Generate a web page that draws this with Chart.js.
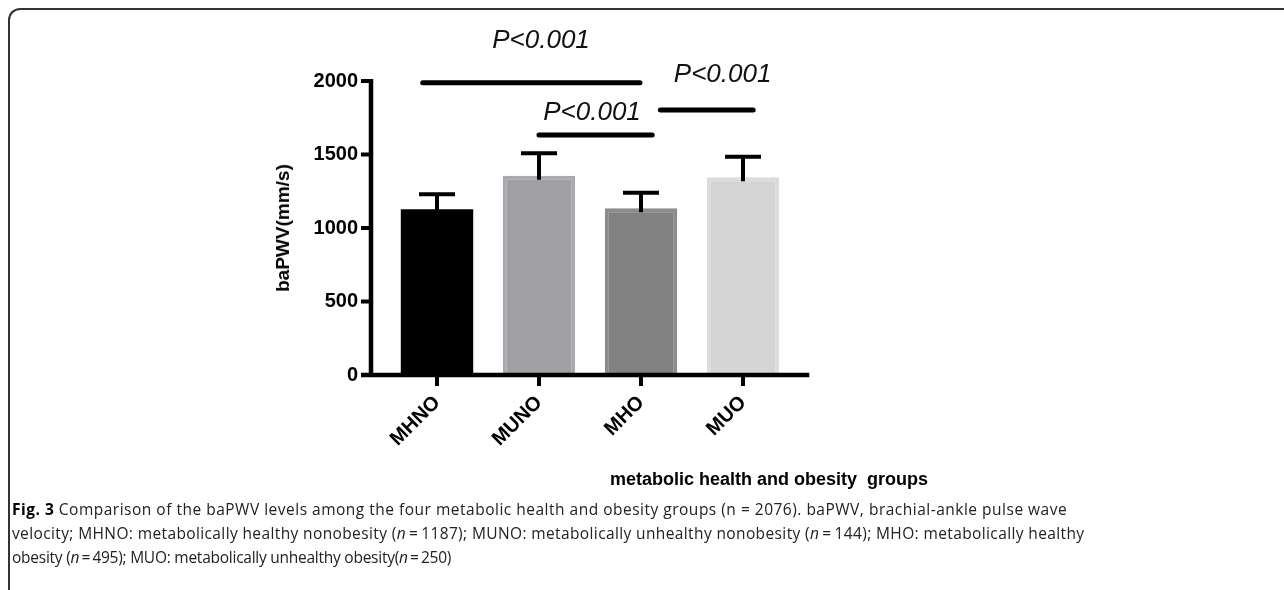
<!DOCTYPE html>
<html>
<head>
<meta charset="utf-8">
<script src="https://cdn.jsdelivr.net/npm/chart.js@4.4.1/dist/chart.umd.min.js"></script>
<style>
  body { margin: 0; background: #fff; width: 1284px; height: 590px; overflow: hidden; position: relative; }
  #frame { position: absolute; left: 8px; top: 8px; width: 1300px; height: 620px;
           border-top: 2px solid #333; border-left: 2px solid #333; border-top-left-radius: 12px; }
  #chart { position: absolute; left: 0; top: 0; }
  .axisTitle { position: absolute; font-family: "Liberation Sans", Arial, sans-serif; font-weight: bold; color: #000; white-space: pre; }
  #yTitle { font-size: 19px; left: 283px; top: 228px; transform: translate(-50%, -50%) rotate(-90deg); }
  #xTitle { font-size: 18px; left: 610px; top: 469px; }
  #caption { position: absolute; left: 12px; top: 497px; font-family: "Open Sans", sans-serif; font-size: 15.5px;
             line-height: 24px; color: #222; white-space: nowrap; }
  #caption span { display: block; }
  #caption b { color: #000; }
</style>
</head>
<body>
<div id="frame"></div>
<canvas id="chart" width="1284" height="590"></canvas>
<div class="axisTitle" id="yTitle">baPWV(mm/s)</div>
<div class="axisTitle" id="xTitle">metabolic health and obesity  groups</div>
<div id="caption">
  <span style="letter-spacing: 0.5px"><b>Fig. 3</b> Comparison of the baPWV levels among the four metabolic health and obesity groups (n = 2076). baPWV, brachial-ankle pulse wave</span>
  <span style="letter-spacing: 0.38px">velocity; MHNO: metabolically healthy nonobesity (<i>n</i>&thinsp;=&thinsp;1187); MUNO: metabolically unhealthy nonobesity (<i>n</i>&thinsp;=&thinsp;144); MHO: metabolically healthy</span>
  <span style="letter-spacing: -0.25px">obesity (<i>n</i>&thinsp;=&thinsp;495); MUO: metabolically unhealthy obesity(<i>n</i>&thinsp;=&thinsp;250)</span>
</div>
<script>
// Chart data
const groups = ['MHNO', 'MUNO', 'MHO', 'MUO'];
const meanValues = [1127, 1356, 1134, 1345];
const errorTops = [1230, 1508, 1240, 1485];
const yTicks = [0, 500, 1000, 1500, 2000];

// Significance brackets (category index from/to, y value)
const bracketFrom = [-0.14, 1.0, 2.19];
const bracketTo = [1.99, 2.11, 3.1];
const bracketY = [1988, 1633, 1803];
const pLabels = ['P<0.001', 'P<0.001', 'P<0.001'];
const pLabelX = [1.02, 1.52, 2.8];
const pLabelY = [2224, 1735, 1993];

const fillColors = ['#000000', '#a0a0a4', '#818181', '#d4d4d4'];
const edgeColors = ['#000000', '#aaaaae', '#8c8c8c', '#dcdcdc'];
const edgeWidths = [0, 4, 4, 4];

// Draws axis lines, tick marks, error bars and brackets
const extrasPlugin = {
    id: 'extras',
    afterDatasetsDraw(chart) {
        const ctx = chart.ctx;
        const x = chart.scales.x;
        const y = chart.scales.y;
        const axisX = chart.chartArea.left - 15;
        const y0 = y.getPixelForValue(0);
        ctx.save();
        ctx.strokeStyle = '#000';
        ctx.lineCap = 'butt';

        // error bars
        ctx.lineWidth = 4;
        groups.forEach((g, i) => {
            const cx = x.getPixelForValue(i);
            const top = y.getPixelForValue(errorTops[i]);
            const barTop = y.getPixelForValue(meanValues[i]);
            ctx.beginPath();
            ctx.moveTo(cx, barTop + 4);
            ctx.lineTo(cx, top);
            ctx.moveTo(cx - 18, top);
            ctx.lineTo(cx + 18, top);
            ctx.stroke();
        });

        // axes
        ctx.lineWidth = 4.5;
        ctx.beginPath();
        ctx.moveTo(axisX, y0 + 2);
        ctx.lineTo(axisX, y.getPixelForValue(2000) - 2);
        ctx.moveTo(axisX - 10, y0);
        ctx.lineTo(x.getPixelForValue(3.65), y0);
        ctx.stroke();
        ctx.lineWidth = 4;
        ctx.beginPath();
        yTicks.forEach(v => {
            const py = y.getPixelForValue(v);
            ctx.moveTo(axisX - 10, py);
            ctx.lineTo(axisX, py);
        });
        groups.forEach((g, i) => {
            const cx = x.getPixelForValue(i);
            ctx.moveTo(cx, y0);
            ctx.lineTo(cx, y0 + 11);
        });
        ctx.stroke();

        // significance lines
        ctx.lineWidth = 5;
        ctx.lineCap = 'round';
        ctx.beginPath();
        bracketY.forEach((v, i) => {
            const py = y.getPixelForValue(v);
            ctx.moveTo(x.getPixelForValue(bracketFrom[i]), py);
            ctx.lineTo(x.getPixelForValue(bracketTo[i]), py);
        });
        ctx.stroke();

        ctx.fillStyle = '#111';
        ctx.font = 'italic 26px "Liberation Sans", Arial, sans-serif';
        ctx.textAlign = 'center';
        ctx.textBaseline = 'alphabetic';
        pLabels.forEach((t, i) => {
            ctx.fillText(t, x.getPixelForValue(pLabelX[i]), y.getPixelForValue(pLabelY[i]));
        });
        ctx.restore();
    }
};

const ctx = document.getElementById('chart').getContext('2d');
const chart = new Chart(ctx, {
    type: 'bar',
    data: {
        labels: groups,
        datasets: [{
            data: meanValues,
            backgroundColor: fillColors,
            borderColor: edgeColors,
            borderWidth: edgeWidths,
            categoryPercentage: 1,
            barPercentage: 0.71
        }]
    },
    options: {
        responsive: false,
        animation: false,
        layout: { padding: { left: 296, right: 490, top: 81, bottom: 135 } },
        plugins: { legend: { display: false }, tooltip: { enabled: false } },
        scales: {
            x: {
                grid: { display: false, drawTicks: false },
                border: { display: false },
                ticks: {
                    minRotation: 45,
                    maxRotation: 45,
                    padding: 16,
                    color: '#000',
                    font: { family: '"Liberation Sans", Arial, sans-serif', size: 20, weight: 'bold' }
                },
                afterFit: s => { s.height = 80; }
            },
            y: {
                min: 0,
                max: 2000,
                grid: { display: false, drawTicks: false },
                border: { display: false },
                afterBuildTicks: s => { s.ticks = yTicks.map(v => ({ value: v })); },
                ticks: {
                    padding: 28,
                    color: '#000',
                    callback: v => String(v),
                    font: { family: '"Liberation Sans", Arial, sans-serif', size: 20, weight: 'bold' }
                },
                afterFit: s => { s.width = 90; }
            }
        }
    },
    plugins: [extrasPlugin]
});
</script>
</body>
</html>
